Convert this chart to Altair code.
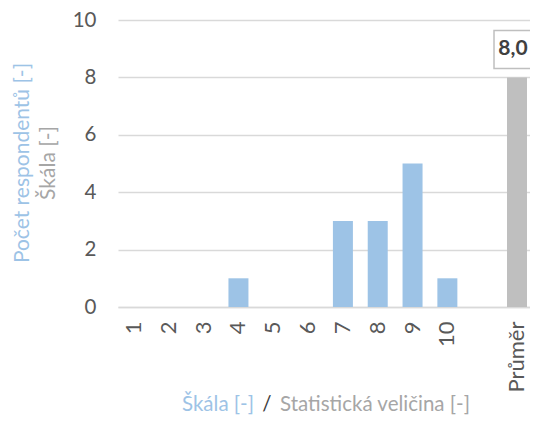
import altair as alt
import pandas as pd

# ---- data ----
categories = ['1', '2', '3', '4', '5', '6', '7', '8', '9', '10']
counts = [0, 0, 0, 1, 0, 0, 3, 3, 5, 1]
gap_label = ' '
mean_label = 'Průměr'
mean_value = 8.0
y_ticks = [0, 2, 4, 6, 8, 10]

domain = categories + [gap_label, mean_label]
df_counts = pd.DataFrame({'cat': categories, 'val': counts})
df_mean = pd.DataFrame({'cat': [mean_label], 'val': [mean_value],
                        'lbl': [f"{mean_value:.1f}".replace('.', ',')]})

FONT = 'Lato'
BLUE = '#9DC3E6'
GREY_T = '#A6A6A6'

x = alt.X('cat:N', sort=domain,
          scale=alt.Scale(domain=domain, paddingInner=0.4256, paddingOuter=0.129, align=0.667),
          axis=alt.Axis(title=None, labelAngle=270, labelFontSize=22, labelColor='#595959',
                        labelFont=FONT, ticks=False, domainColor='#D9D9D9', domainWidth=1.3,
                        labelPadding=14))
y = alt.Y('val:Q', scale=alt.Scale(domain=[0, 10], nice=False),
          axis=alt.Axis(title=None, values=y_ticks, labelFontSize=20.5, labelColor='#595959',
                        labelFont=FONT, ticks=False, domain=False, gridColor='#D9D9D9',
                        gridWidth=1.3, labelPadding=22))

bars = alt.Chart(df_counts).mark_bar(color=BLUE).encode(x=x, y=y)
mean_bar = alt.Chart(df_mean).mark_bar(color='#BFBFBF').encode(x=x, y=y)
box = alt.Chart(df_mean).mark_rect(width=42, height=38, fill='white', stroke='#BFBFBF',
                                   strokeWidth=1.5, yOffset=-28, xOffset=-2).encode(x=x, y=y)
lbl = alt.Chart(df_mean).mark_text(font=FONT, fontSize=21, fontWeight='bold', color='#404040',
                                   dy=-28, dx=-4, baseline='middle').encode(x=x, y=y, text='lbl:N')

one = pd.DataFrame({'k': [0]})

def ann(txt, px, py, color, align='center', angle=0, size=21):
    return alt.Chart(one).mark_text(text=txt, font=FONT, fontSize=size, color=color,
                                    align=align, baseline='middle', angle=angle).encode(
        x=alt.value(px), y=alt.value(py))

ytitle1 = ann('Počet respondentů [-]', -95, 143, BLUE, angle=270)
ytitle2 = ann('Škála [-]', -69, 143, GREY_T, angle=270)
xt1 = ann('Škála [-]', 136, 385, BLUE, align='right', size=20.5)
xt2 = ann('/', 149, 385, '#404040', size=20.5)
xt3 = ann('Statistická veličina [-]', 162, 385, GREY_T, align='left', size=20.5)

chart = alt.layer(bars, mean_bar, box, lbl, ytitle1, ytitle2, xt1, xt2, xt3).properties(
    width=412, height=287,
    autosize=alt.AutoSizeParams(type='none'),
    padding={'left': 110, 'top': 12, 'right': 0, 'bottom': 111}
).configure_view(stroke=None)

chart.save("out.html", embed_options={"renderer": "svg", "actions": False})
